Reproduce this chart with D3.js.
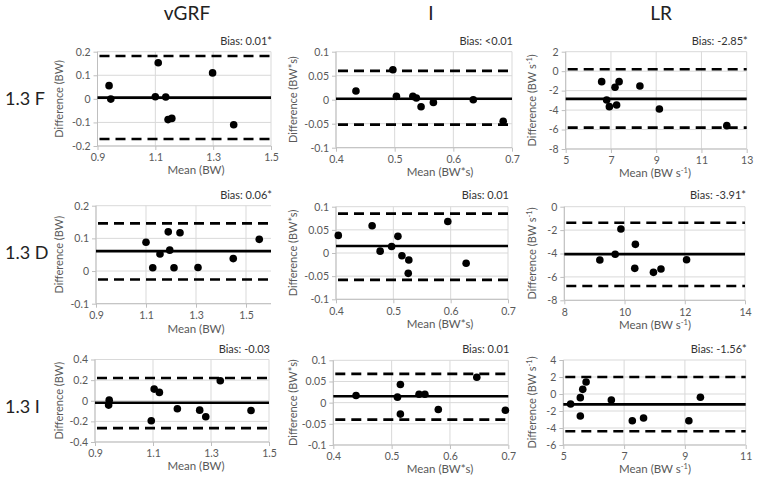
<!DOCTYPE html>
<html><head><meta charset="utf-8">
<script src="https://cdn.jsdelivr.net/npm/d3@7"></script>
<style>
body{margin:0;background:#fff;}
svg{font-family:Lato,"Open Sans",sans-serif;}
</style></head><body>
<svg id="c" width="757" height="481"></svg>
<script>
// ---------- DATA ----------
const colTitles = ["vGRF", "I", "LR"];
const rowLabels = ["1.3 F", "1.3 D", "1.3 I"];
const biasLabels = ["Bias: 0.01*", "Bias: <0.01", "Bias: -2.85*",
                    "Bias: 0.06*", "Bias: 0.01", "Bias: -3.91*",
                    "Bias: -0.03", "Bias: 0.01", "Bias: -1.56*"];

const vgrfF_mean = [0.940, 0.946, 1.110, 1.100, 1.136, 1.144, 1.157, 1.298, 1.371];
const vgrfF_diff = [0.056, -0.001, 0.153, 0.009, 0.008, -0.088, -0.083, 0.110, -0.110];
const iF_mean = [0.434, 0.497, 0.503, 0.531, 0.537, 0.545, 0.566, 0.634, 0.685];
const iF_diff = [0.018, 0.0625, 0.007, 0.007, 0.0035, -0.0146, -0.0056, 0.0, -0.045];
const lrF_mean = [6.59, 6.81, 6.93, 7.18, 7.25, 7.36, 8.28, 9.14, 12.12];
const lrF_diff = [-1.08, -2.97, -3.65, -1.66, -3.48, -1.08, -1.53, -3.89, -5.6];

const vgrfD_mean = [1.100, 1.127, 1.156, 1.189, 1.195, 1.212, 1.236, 1.308, 1.449, 1.553];
const vgrfD_diff = [0.088, 0.010, 0.052, 0.120, 0.064, 0.010, 0.117, 0.011, 0.038, 0.097];
const iD_mean = [0.404, 0.463, 0.477, 0.497, 0.508, 0.515, 0.527, 0.526, 0.595, 0.627];
const iD_diff = [0.038, 0.059, 0.004, 0.014, 0.036, -0.006, -0.015, -0.044, 0.068, -0.022];
const lrD_mean = [9.18, 9.69, 9.88, 10.36, 10.34, 10.96, 11.21, 12.06];
const lrD_diff = [-4.56, -4.07, -1.91, -3.22, -5.27, -5.61, -5.33, -4.53];

const vgrfI_mean = [0.949, 0.947, 1.104, 1.122, 1.094, 1.184, 1.261, 1.282, 1.332, 1.438];
const vgrfI_diff = [0.006, -0.042, 0.113, 0.081, -0.194, -0.078, -0.091, -0.155, 0.194, -0.094];
const iI_mean = [0.439, 0.510, 0.515, 0.515, 0.547, 0.557, 0.580, 0.646, 0.695];
const iI_diff = [0.017, 0.013, 0.043, -0.027, 0.020, 0.020, -0.016, 0.060, -0.018];
const lrI_mean = [5.24, 5.56, 5.56, 5.64, 5.75, 6.58, 7.27, 7.64, 9.13, 9.51];
const lrI_diff = [-1.18, -0.43, -2.59, 0.55, 1.41, -0.71, -3.14, -2.82, -3.14, -0.39];

// bias line and limits of agreement as drawn
const biasLine = [0.005, 0.002, -2.85, 0.061, 0.015, -4.05, -0.02, 0.015, -1.22];
const upperLoA = [0.182, 0.060, 0.2, 0.146, 0.085, -1.37, 0.22, 0.068, 2.0];
const lowerLoA = [-0.170, -0.052, -5.8, -0.026, -0.058, -6.78, -0.265, -0.040, -4.39];

// axes
const xDomains = [[0.9, 1.5], [0.4, 0.7], [5, 13], [0.9, 1.6], [0.4, 0.7], [8, 14], [0.9, 1.5], [0.4, 0.7], [5, 11]];
const yDomains = [[-0.2, 0.2], [-0.1, 0.1], [-8, 2], [-0.1, 0.2], [-0.1, 0.1], [-8, 0], [-0.4, 0.4], [-0.1, 0.1], [-6, 4]];
const xTickVals = [[0.9, 1.1, 1.3, 1.5], [0.4, 0.5, 0.6, 0.7], [5, 7, 9, 11, 13], [0.9, 1.1, 1.3, 1.5], [0.4, 0.5, 0.6, 0.7], [8, 10, 12, 14], [0.9, 1.1, 1.3, 1.5], [0.4, 0.5, 0.6, 0.7], [5, 7, 9, 11]];
const xTickLabels = [["0.9", "1.1", "1.3", "1.5"], ["0.4", "0.5", "0.6", "0.7"], ["5", "7", "9", "11", "13"], ["0.9", "1.1", "1.3", "1.5"], ["0.4", "0.5", "0.6", "0.7"], ["8", "10", "12", "14"], ["0.9", "1.1", "1.3", "1.5"], ["0.4", "0.5", "0.6", "0.7"], ["5", "7", "9", "11"]];
const yTickVals = [[-0.2, -0.1, 0, 0.1, 0.2], [-0.1, -0.05, 0, 0.05, 0.1], [-8, -6, -4, -2, 0, 2], [-0.1, 0, 0.1, 0.2], [-0.1, -0.05, 0, 0.05, 0.1], [-8, -6, -4, -2, 0], [-0.4, -0.2, 0, 0.2, 0.4], [-0.1, -0.05, 0, 0.05, 0.1], [-6, -4, -2, 0, 2, 4]];
const yTickLabels = [["-0.2", "-0.1", "0", "0.1", "0.2"], ["-0.1", "-0.05", "0", "0.05", "0.1"], ["-8", "-6", "-4", "-2", "0", "2"], ["-0.1", "0", "0.1", "0.2"], ["-0.1", "-0.05", "0", "0.05", "0.1"], ["-8", "-6", "-4", "-2", "0"], ["-0.4", "-0.2", "0", "0.2", "0.4"], ["-0.1", "-0.05", "0", "0.05", "0.1"], ["-6", "-4", "-2", "0", "2", "4"]];

const yTitles = [["Difference (BW)", ""], ["Difference (BW*s)", ""], ["Difference (BW s", "-1"]];
const xTitles = [["Mean (BW)", ""], ["Mean (BW*s)", ""], ["Mean (BW s", "-1"]];

const means = [vgrfF_mean, iF_mean, lrF_mean, vgrfD_mean, iD_mean, lrD_mean, vgrfI_mean, iI_mean, lrI_mean];
const diffs = [vgrfF_diff, iF_diff, lrF_diff, vgrfD_diff, iD_diff, lrD_diff, vgrfI_diff, iI_diff, lrI_diff];

// ---------- LAYOUT ----------
const boxes = [
  {x0: 97.5, x1: 271, y0: 51.7, y1: 146},
  {x0: 336, x1: 512, y0: 51.7, y1: 147.7},
  {x0: 565.7, x1: 746.7, y0: 51.7, y1: 149},
  {x0: 96, x1: 271, y0: 205.7, y1: 303.7},
  {x0: 336, x1: 508, y0: 206.7, y1: 299.3},
  {x0: 564.3, x1: 745, y0: 206.7, y1: 300.3},
  {x0: 95, x1: 269, y0: 359.5, y1: 442},
  {x0: 333.3, x1: 508.3, y0: 360.3, y1: 445},
  {x0: 563.3, x1: 745.7, y0: 360, y1: 445}
];
const colTitleX = [187, 431, 661];
const yTitleX = [63, 297, 536];
const xTitleX = [196, 440, 655];
const rowLabelY = [105, 259, 413];
const biasY = [45, 199, 353];
const xTitleDy = [28, 29, 28];

const svg = d3.select("#c");
const GRID = "#d9d9d9", AXIS = "#bfbfbf", TXT = "#595959";

colTitles.forEach((t, i) => {
  svg.append("text").attr("x", colTitleX[i]).attr("y", 20).attr("text-anchor", "middle")
    .attr("font-size", 19).attr("fill", "#222").text(t);
});
rowLabels.forEach((t, i) => {
  svg.append("text").attr("x", 5).attr("y", rowLabelY[i])
    .attr("font-size", 18).attr("fill", "#222").text(t);
});

means.forEach((mArr, p) => {
  const b = boxes[p], col = p % 3, row = Math.floor(p / 3);
  const x = d3.scaleLinear().domain(xDomains[p]).range([b.x0, b.x1]);
  const y = d3.scaleLinear().domain(yDomains[p]).range([b.y1, b.y0]);
  const g = svg.append("g");

  // grid
  g.selectAll(".gy").data(yTickVals[p]).join("line")
    .attr("x1", b.x0).attr("x2", b.x1).attr("y1", d => y(d)).attr("y2", d => y(d))
    .attr("stroke", GRID).attr("stroke-width", 1);
  g.selectAll(".gx").data(xTickVals[p]).join("line")
    .attr("x1", d => x(d)).attr("x2", d => x(d)).attr("y1", b.y0).attr("y2", b.y1)
    .attr("stroke", GRID).attr("stroke-width", 1);

  // axes
  const ya = d3.axisLeft(y).tickValues(yTickVals[p]).tickSize(4).tickPadding(3)
    .tickFormat((d, i) => yTickLabels[p][i]);
  const yg = g.append("g").attr("transform", `translate(${b.x0},0)`).call(ya);
  const xa = d3.axisBottom(x).tickValues(xTickVals[p]).tickSize(4).tickPadding(4)
    .tickFormat((d, i) => xTickLabels[p][i]);
  const xg = g.append("g").attr("transform", `translate(0,${b.y1})`).call(xa);
  [yg, xg].forEach(a => {
    a.select(".domain").attr("stroke", AXIS).attr("d", null);
    a.selectAll(".tick line").attr("stroke", AXIS);
    a.selectAll(".tick text").attr("fill", TXT).attr("font-size", 10.5).attr("font-family", "Lato");
  });
  g.append("line").attr("x1", b.x0).attr("x2", b.x0).attr("y1", b.y0).attr("y2", b.y1).attr("stroke", AXIS);
  g.append("line").attr("x1", b.x0).attr("x2", b.x1).attr("y1", b.y1).attr("y2", b.y1).attr("stroke", AXIS);

  // limits of agreement
  [upperLoA[p], lowerLoA[p]].forEach(v => {
    g.append("line").attr("x1", b.x0 + 2).attr("x2", b.x1).attr("y1", y(v)).attr("y2", y(v))
      .attr("stroke", "#000").attr("stroke-width", 2.6).attr("stroke-dasharray", "10,6");
  });
  g.append("line").attr("x1", b.x0).attr("x2", b.x1).attr("y1", y(biasLine[p])).attr("y2", y(biasLine[p]))
    .attr("stroke", "#000").attr("stroke-width", 2.6);

  // points
  g.selectAll(".pt").data(mArr.map((m, i) => [m, diffs[p][i]])).join("circle")
    .attr("cx", d => x(d[0])).attr("cy", d => y(d[1])).attr("r", 3.8).attr("fill", "#000");

  // bias text
  g.append("text").attr("x", b.x1 + 1).attr("y", biasY[row]).attr("text-anchor", "end")
    .attr("font-size", 11).attr("fill", "#333").text(biasLabels[p]);

  // y title
  const yt = g.append("text").attr("transform", `translate(${yTitleX[col]},${(b.y0 + b.y1) / 2}) rotate(-90)`)
    .attr("text-anchor", "middle").attr("font-size", 11).attr("fill", TXT);
  yt.append("tspan").text(yTitles[col][0]);
  if (yTitles[col][1]) {
    yt.append("tspan").attr("font-size", 7.5).attr("dy", -4).text(yTitles[col][1]);
    yt.append("tspan").attr("dy", 4).text(")");
  }
  // x title
  const xt = g.append("text").attr("x", xTitleX[col]).attr("y", b.y1 + xTitleDy[row])
    .attr("text-anchor", "middle").attr("font-size", 11.5).attr("fill", TXT);
  xt.append("tspan").text(xTitles[col][0]);
  if (xTitles[col][1]) {
    xt.append("tspan").attr("font-size", 7.5).attr("dy", -4).text(xTitles[col][1]);
    xt.append("tspan").attr("dy", 4).text(")");
  }
});
</script>
</body></html>
